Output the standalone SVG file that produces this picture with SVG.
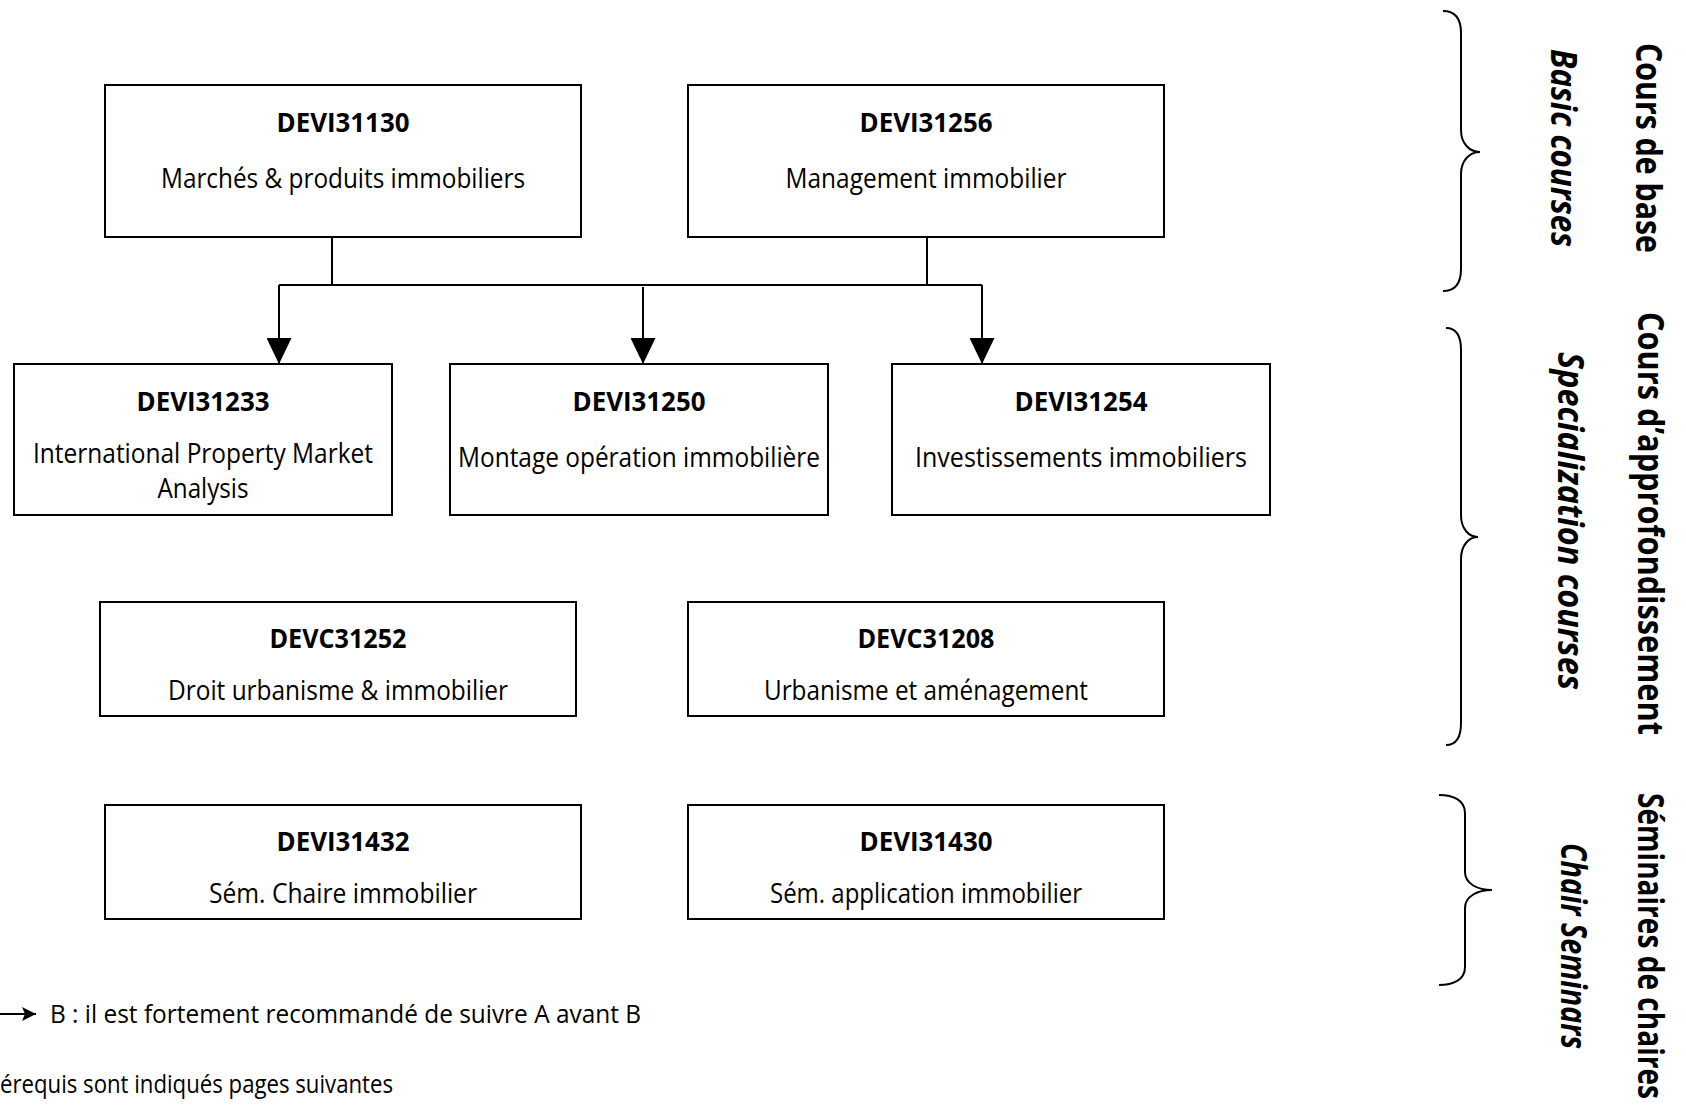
<svg xmlns="http://www.w3.org/2000/svg" width="1686" height="1113" viewBox="0 0 1686 1113">
  <style>
    text { font-family: "Open Sans", "Noto Sans", "Liberation Sans", sans-serif; fill: #000; }
    .box { fill: #fff; stroke: #000; stroke-width: 2; }
    .code { font-weight: 700; font-size: 27px; text-anchor: middle; }
    .lbl { font-weight: 400; font-size: 27px; text-anchor: middle; }
    .edge { fill: none; stroke: #000; stroke-width: 2; }
    .head { fill: #000; stroke: none; }
    .brace { fill: none; stroke: #000; stroke-width: 2; }
    .side { font-weight: 700; font-size: 36px; }
    .side-it { font-weight: 700; font-style: italic; font-size: 36px; }
    .legend { font-size: 25px; }
  </style>
  <defs>
    <marker id="tri" viewBox="0 0 26 25" refX="26" refY="12.5" markerWidth="26" markerHeight="25" markerUnits="userSpaceOnUse" orient="auto">
      <path d="M0,0 L26,12.5 L0,25 Z" class="head"/>
    </marker>
    <marker id="tri-small" viewBox="0 0 14 14" refX="14" refY="7" markerWidth="14" markerHeight="14" markerUnits="userSpaceOnUse" orient="auto">
      <path d="M0,0 L14,7 L0,14 L3,7 Z" class="head"/>
    </marker>
  </defs>

  <rect width="1686" height="1113" fill="#fff"/>

  <!-- prerequisite connectors -->
  <g id="connectors">
    <path class="edge" d="M332,237 V285"/>
    <path class="edge" d="M927,237 V285"/>
    <path class="edge" d="M279,285 H982"/>
    <path class="edge" d="M279,285 V364" marker-end="url(#tri)"/>
    <path class="edge" d="M643,287 V364" marker-end="url(#tri)"/>
    <path class="edge" d="M982,285 V364" marker-end="url(#tri)"/>
  </g>

  <!-- basic courses -->
  <g id="DEVI31130">
    <rect class="box" x="105" y="85" width="476" height="152"/>
    <text class="code" x="343" y="131.5" textLength="133" lengthAdjust="spacingAndGlyphs">DEVI31130</text>
    <text class="lbl" x="343" y="188" textLength="364" lengthAdjust="spacingAndGlyphs">Marchés &amp; produits immobiliers</text>
  </g>
  <g id="DEVI31256">
    <rect class="box" x="688" y="85" width="476" height="152"/>
    <text class="code" x="926" y="131.5" textLength="133" lengthAdjust="spacingAndGlyphs">DEVI31256</text>
    <text class="lbl" x="926" y="188" textLength="281" lengthAdjust="spacingAndGlyphs">Management immobilier</text>
  </g>

  <!-- specialization courses -->
  <g id="DEVI31233">
    <rect class="box" x="14" y="364" width="378" height="151"/>
    <text class="code" x="203" y="411" textLength="133" lengthAdjust="spacingAndGlyphs">DEVI31233</text>
    <text class="lbl" x="203" y="463" textLength="340" lengthAdjust="spacingAndGlyphs">International Property Market</text>
    <text class="lbl" x="203" y="498" textLength="91" lengthAdjust="spacingAndGlyphs">Analysis</text>
  </g>
  <g id="DEVI31250">
    <rect class="box" x="450" y="364" width="378" height="151"/>
    <text class="code" x="639" y="411" textLength="133" lengthAdjust="spacingAndGlyphs">DEVI31250</text>
    <text class="lbl" x="639" y="467" textLength="362" lengthAdjust="spacingAndGlyphs">Montage opération immobilière</text>
  </g>
  <g id="DEVI31254">
    <rect class="box" x="892" y="364" width="378" height="151"/>
    <text class="code" x="1081" y="411" textLength="133" lengthAdjust="spacingAndGlyphs">DEVI31254</text>
    <text class="lbl" x="1081" y="467" textLength="332" lengthAdjust="spacingAndGlyphs">Investissements immobiliers</text>
  </g>
  <g id="DEVC31252">
    <rect class="box" x="100" y="602" width="476" height="114"/>
    <text class="code" x="338" y="648" textLength="137" lengthAdjust="spacingAndGlyphs">DEVC31252</text>
    <text class="lbl" x="338" y="700" textLength="340" lengthAdjust="spacingAndGlyphs">Droit urbanisme &amp; immobilier</text>
  </g>
  <g id="DEVC31208">
    <rect class="box" x="688" y="602" width="476" height="114"/>
    <text class="code" x="926" y="648" textLength="137" lengthAdjust="spacingAndGlyphs">DEVC31208</text>
    <text class="lbl" x="926" y="700" textLength="324" lengthAdjust="spacingAndGlyphs">Urbanisme et aménagement</text>
  </g>

  <!-- chair seminars -->
  <g id="DEVI31432">
    <rect class="box" x="105" y="805" width="476" height="114"/>
    <text class="code" x="343" y="851" textLength="133" lengthAdjust="spacingAndGlyphs">DEVI31432</text>
    <text class="lbl" x="343" y="903" textLength="268" lengthAdjust="spacingAndGlyphs">Sém. Chaire immobilier</text>
  </g>
  <g id="DEVI31430">
    <rect class="box" x="688" y="805" width="476" height="114"/>
    <text class="code" x="926" y="851" textLength="133" lengthAdjust="spacingAndGlyphs">DEVI31430</text>
    <text class="lbl" x="926" y="903" textLength="312" lengthAdjust="spacingAndGlyphs">Sém. application immobilier</text>
  </g>

  <!-- group braces -->
  <g id="braces">
    <path class="brace" d="M1443,11 C1453,11 1461,16 1461,33 L1461,130 C1461,144 1470,152 1480,152 C1470,152 1461,160 1461,174 L1461,269 C1461,286 1453,291 1443,291"/>
    <path class="brace" d="M1446,328 C1454,328 1461,333 1461,350 L1461,515 C1461,529 1469,537 1478,537 C1469,537 1461,545 1461,559 L1461,723 C1461,740 1454,745 1446,745"/>
    <path class="brace" d="M1439,795 C1453,795 1465,800 1465,813 L1465,872 C1465,884 1478,890 1492,890 C1478,890 1465,896 1465,908 L1465,967 C1465,980 1453,985 1439,985"/>
  </g>

  <!-- group titles, read top to bottom -->
  <g id="group-basic">
    <text class="side" transform="translate(1636,43) rotate(90)" textLength="210" lengthAdjust="spacingAndGlyphs">Cours de base</text>
    <text class="side-it" transform="translate(1551,49) rotate(90)" textLength="198" lengthAdjust="spacingAndGlyphs">Basic courses</text>
  </g>
  <g id="group-specialization">
    <text class="side" transform="translate(1638,312) rotate(90)" textLength="423" lengthAdjust="spacingAndGlyphs">Cours d’approfondissement</text>
    <text class="side-it" transform="translate(1558,352) rotate(90)" textLength="338" lengthAdjust="spacingAndGlyphs">Specialization courses</text>
  </g>
  <g id="group-seminars">
    <text class="side" transform="translate(1638,793) rotate(90)" textLength="306" lengthAdjust="spacingAndGlyphs">Séminaires de chaires</text>
    <text class="side-it" transform="translate(1561,843) rotate(90)" textLength="206" lengthAdjust="spacingAndGlyphs">Chair Seminars</text>
  </g>

  <!-- legend -->
  <g id="legend">
    <path class="edge" d="M0,1014 H36" stroke-width="2.5" marker-end="url(#tri-small)"/>
    <text class="legend" x="50" y="1023" textLength="591" lengthAdjust="spacingAndGlyphs">B : il est fortement recommandé de suivre A avant B</text>
    <text class="legend" x="0" y="1093" textLength="393" lengthAdjust="spacingAndGlyphs">érequis sont indiqués pages suivantes</text>
  </g>
</svg>
